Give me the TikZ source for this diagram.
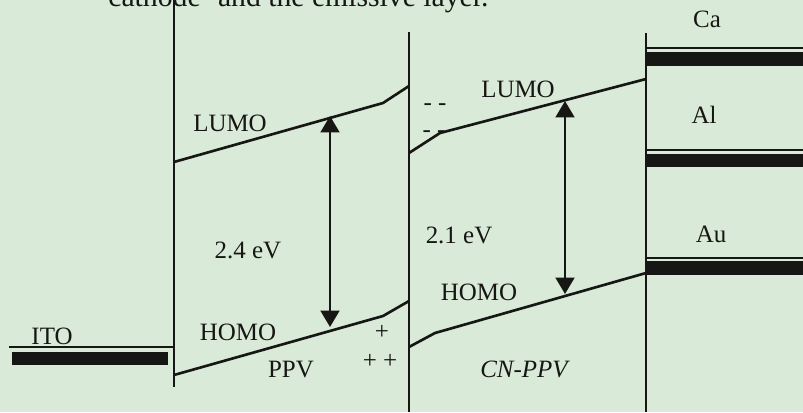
\documentclass[tikz,border=0pt]{standalone}
\usepackage{fontspec}
\setmainfont{Liberation Serif}
\usetikzlibrary{arrows.meta}
\definecolor{paper}{RGB}{218,234,216}
\definecolor{ink}{RGB}{22,22,20}

\begin{document}
\begin{tikzpicture}[x=0.02cm, y=-0.02cm,
  lbl/.style={anchor=base, inner sep=0pt, text=ink,
              font=\fontsize{14.2}{17}\selectfont},
  band/.style={ink, line width=1.5pt, line join=round},
  wall/.style={ink, line width=1.1pt},
  level/.style={ink, line width=0.9pt},
  metal/.style={fill=ink},
  gap/.style={ink, line width=1.2pt,
              arrows={Triangle[width=0.38cm,length=0.33cm]-Triangle[width=0.38cm,length=0.33cm]}},
  ]
  \useasboundingbox (0,0) rectangle (803,412);
  \fill[paper] (0,0) rectangle (803,412);
  \clip (0,0) rectangle (803,412);

  % running text of the page, cut by the top edge
  \node[lbl, anchor=base west, font=\fontsize{16.9}{20}\selectfont]
       (txt) at (108,7) {cathode' and the emissive layer.};

  % layer boundaries
  \draw[wall] (174,0) -- (174,387);
  \draw[wall] (409,32) -- (409,412);
  \draw[wall] (646,33) -- (646,412);

  % anode
  \draw[level] (9,347) -- (174,347);
  \fill[metal] (12,352) rectangle (168,365);
  \node[lbl] (ito) at (52,344) {ITO};

  % cathodes
  \draw[level] (646,48) -- (803,48);
  \fill[metal] (646,52) rectangle (803,66);
  \draw[level] (646,150) -- (803,150);
  \fill[metal] (646,154) rectangle (803,167);
  \draw[level] (646,258) -- (803,258);
  \fill[metal] (646,261) rectangle (803,275);
  \node[lbl] (ca) at (707,28) {Ca};
  \node[lbl] (al) at (704,123) {Al};
  \node[lbl] (au) at (711,242) {Au};

  % PPV bands
  \draw[band] (174,162) -- (383,103) -- (409,86);
  \draw[band] (174,375) -- (383,316) -- (409,301);
  \coordinate (ppvL) at (330,116);
  \coordinate (ppvH) at (330,327);
  \draw[gap] (ppvL) -- (ppvH);
  \node[lbl] (l1) at (230,131) {LUMO};
  \node[lbl] (e1) at (248,258) {2.4 eV};
  \node[lbl] (h1) at (238,340) {HOMO};
  \node[lbl] (ppv) at (291,377) {PPV};
  \node[lbl] (p1) at (382,339) {+};
  \node[lbl] (p2) at (380,368) {+ +};

  % CN-PPV bands
  \draw[band] (409,153) -- (440,133) -- (646,79);
  \draw[band] (409,347) -- (435,333) -- (646,273);
  \coordinate (cnL) at (565,101);
  \coordinate (cnH) at (565,294);
  \draw[gap] (cnL) -- (cnH);
  \node[lbl] (l2) at (518,97) {LUMO};
  \node[lbl] (e2) at (459,243) {2.1 eV};
  \node[lbl] (h2) at (479,300) {HOMO};
  \node[lbl, font=\fontsize{14.2}{17}\selectfont\itshape] (cn) at (524,377) {CN-PPV};
  \node[lbl] (m1) at (435,110) {- -};
  \node[lbl] (m2) at (434,137) {- -};
\end{tikzpicture}
\end{document}
